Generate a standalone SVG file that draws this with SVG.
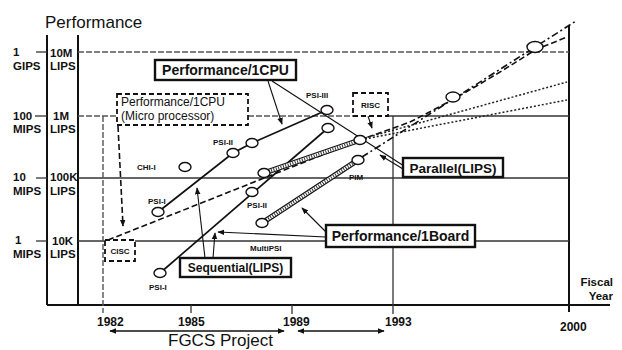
<svg xmlns="http://www.w3.org/2000/svg" width="622" height="350" viewBox="0 0 622 350">
<defs>
<marker id="arr" viewBox="0 0 10 10" refX="9" refY="5" markerWidth="7" markerHeight="7" orient="auto-start-reverse" markerUnits="userSpaceOnUse">
<path d="M0,1 L10,5 L0,9 z" fill="#111"/>
</marker>
<style>
text{font-family:"Liberation Sans",Arial,sans-serif;fill:#111}
.ax{font-size:11.5px;font-weight:bold}
.yr{font-size:12px;font-weight:bold}
.big{font-size:17px}
.lbl{font-weight:bold}
.sm{font-size:8px;font-weight:bold}
.axis{stroke:#111;stroke-width:2;fill:none}
.grid{stroke:#333;stroke-width:1.3;fill:none}
.gdash{stroke:#555;stroke-width:1.4;stroke-dasharray:6 2;fill:none}
.box{fill:#fff;stroke:#111;stroke-width:2.4}
.dbox{fill:#fff;stroke:#111;stroke-width:1.8;stroke-dasharray:5 3}
.pt{fill:#fff;stroke:#111;stroke-width:1.4}
.ln{stroke:#111;stroke-width:1.7;fill:none}
.lead{stroke:#111;stroke-width:1.1;fill:none}
.dash{stroke:#111;stroke-width:1.6;stroke-dasharray:6 3;fill:none}
.dashdot{stroke:#111;stroke-width:1.6;stroke-dasharray:7 3 2 3;fill:none}
.dot{stroke:#222;stroke-width:1.5;stroke-dasharray:2 2;fill:none}
.rail{stroke:#111;stroke-width:5.5;fill:none}
.rail-in{stroke:#fff;stroke-width:3;fill:none}
.rung{stroke:#333;stroke-width:3;stroke-dasharray:1 1.5;fill:none}
</style>
</defs>

<!-- axes and scale labels -->
<g id="axes">
<text class="big" x="45" y="28">Performance</text>
<line class="axis" x1="47" y1="35" x2="47" y2="305"/>
<line class="axis" x1="78" y1="35" x2="78" y2="305"/>
<line class="axis" x1="47" y1="305" x2="610" y2="305"/>
<line class="axis" x1="569" y1="25" x2="569" y2="312"/>
<!-- left scale ticks -->
<line class="grid" x1="36" y1="52" x2="47" y2="52"/>
<line class="grid" x1="35" y1="116" x2="47" y2="116"/>
<line class="grid" x1="36" y1="178" x2="47" y2="178"/>
<line class="grid" x1="36" y1="241" x2="47" y2="241"/>
<text class="ax" x="13" y="56">1</text>
<text class="ax" x="13" y="70">GIPS</text>
<text class="ax" x="50" y="57">10M</text>
<text class="ax" x="50" y="70">LIPS</text>
<text class="ax" x="13" y="120">100</text>
<text class="ax" x="13" y="133">MIPS</text>
<text class="ax" x="53" y="120">1M</text>
<text class="ax" x="50" y="133">LIPS</text>
<text class="ax" x="13" y="181">10</text>
<text class="ax" x="13" y="195">MIPS</text>
<text class="ax" x="50" y="181">100K</text>
<text class="ax" x="50" y="195">LIPS</text>
<text class="ax" x="15" y="244">1</text>
<text class="ax" x="13" y="258">MIPS</text>
<text class="ax" x="52" y="245">10K</text>
<text class="ax" x="50" y="258">LIPS</text>
<!-- horizontal grid -->
<line class="gdash" x1="78" y1="52" x2="569" y2="52"/>
<line class="gdash" x1="78" y1="116" x2="117" y2="116"/>
<line class="gdash" x1="248" y1="116" x2="353" y2="116"/>
<line class="grid" x1="388" y1="116" x2="569" y2="116"/>
<line class="grid" x1="78" y1="178" x2="569" y2="178"/>
<line class="grid" x1="78" y1="241" x2="569" y2="241"/>
<!-- year lines and ticks -->
<line class="gdash" x1="103" y1="116" x2="103" y2="313"/>
<line class="grid" x1="191" y1="305" x2="191" y2="313"/>
<line class="grid" x1="292" y1="305" x2="292" y2="314"/>
<line class="grid" x1="393" y1="116" x2="393" y2="314"/>
<text class="yr" x="97" y="326">1982</text>
<text class="yr" x="178" y="326">1985</text>
<text class="yr" x="283" y="326">1989</text>
<text class="yr" x="385" y="326">1993</text>
<text class="yr" x="560" y="331">2000</text>
<text class="ax" x="613" y="286" text-anchor="end">Fiscal</text>
<text class="ax" x="613" y="300" text-anchor="end">Year</text>
<!-- project span -->
<line class="ln" x1="110" y1="331" x2="284" y2="331" marker-start="url(#arr)" marker-end="url(#arr)"/>
<line class="ln" x1="298" y1="331" x2="384" y2="331" marker-start="url(#arr)" marker-end="url(#arr)"/>
<text class="big" x="168" y="346">FGCS Project</text>
</g>

<!-- trend lines and leaders -->
<g id="connectors">
<!-- CISC trend -->
<path class="dash" d="M108,240 L360,140 L410,122 Q470,92 535,50 L567,37"/>
<!-- parallel projections -->
<path class="dot" d="M365,138 L567,82"/>
<path class="dot" d="M365,139 L567,100"/>
<path class="dashdot" d="M362,157 L576,21"/>
<!-- per-CPU line -->
<polyline class="ln" points="158,212 233,153 252,143 327,110"/>
<!-- sequential line -->
<line class="ln" x1="160" y1="273" x2="328" y2="128"/>
<!-- Multi-PSI line -->
<line class="rail" x1="264" y1="173" x2="360" y2="140"/>
<line class="rail-in" x1="264" y1="173" x2="360" y2="140"/>
<line class="rung" x1="264" y1="173" x2="360" y2="140"/>
<!-- per-board line -->
<line class="rail" x1="262" y1="223" x2="358" y2="160"/>
<line class="rail-in" x1="262" y1="223" x2="358" y2="160"/>
<line class="rung" x1="262" y1="223" x2="358" y2="160"/>
<!-- box leaders -->
<line class="lead" x1="272" y1="81" x2="404" y2="166"/>
<line class="lead" x1="268" y1="81" x2="282" y2="124" marker-end="url(#arr)"/>
<line class="lead" x1="403" y1="169" x2="380" y2="155" marker-end="url(#arr)"/>
<line class="lead" x1="205" y1="258" x2="197" y2="188" marker-end="url(#arr)"/>
<line class="lead" x1="213" y1="258" x2="215" y2="233" marker-end="url(#arr)"/>
<line class="lead" x1="326" y1="232" x2="302" y2="208" marker-end="url(#arr)"/>
<line class="lead" x1="326" y1="237" x2="218" y2="232" marker-end="url(#arr)"/>
<line class="dash" x1="118" y1="126" x2="123" y2="226" marker-end="url(#arr)"/>
<line class="lead" x1="368" y1="116" x2="372" y2="128" marker-end="url(#arr)"/>
</g>

<!-- data points -->
<g id="points">
<ellipse class="pt" cx="185" cy="167" rx="6" ry="4.5"/>
<ellipse class="pt" cx="158" cy="212" rx="6" ry="4.5"/>
<ellipse class="pt" cx="160" cy="273" rx="6" ry="4.5"/>
<ellipse class="pt" cx="233" cy="153" rx="6" ry="4.5"/>
<ellipse class="pt" cx="252" cy="143" rx="6" ry="4.5"/>
<ellipse class="pt" cx="327" cy="110" rx="6" ry="4.5"/>
<ellipse class="pt" cx="328" cy="128" rx="6" ry="4.5"/>
<ellipse class="pt" cx="252" cy="192" rx="6" ry="4.5"/>
<ellipse class="pt" cx="264" cy="173" rx="6" ry="4.5"/>
<ellipse class="pt" cx="360" cy="140" rx="6" ry="4.5"/>
<ellipse class="pt" cx="358" cy="160" rx="6" ry="4.5"/>
<ellipse class="pt" cx="262" cy="223" rx="6" ry="4.5"/>
<ellipse class="pt" cx="453" cy="97" rx="7" ry="5" stroke-width="2"/>
<ellipse class="pt" cx="535" cy="47" rx="8" ry="5.5" stroke-width="2.4"/>
<text class="sm" x="137" y="170">CHI-I</text>
<text class="sm" x="148" y="204">PSI-I</text>
<text class="sm" x="149" y="290">PSI-I</text>
<text class="sm" x="213" y="145">PSI-II</text>
<text class="sm" x="247" y="208">PSI-II</text>
<text class="sm" x="306" y="98">PSI-III</text>
<text class="sm" x="349" y="180">PIM</text>
<text class="sm" x="250" y="251">MultiPSI</text>
</g>

<g id="box-cpu">
<rect class="box" x="155" y="60" width="141" height="20"/>
<text class="lbl" x="225.5" y="75" font-size="14" text-anchor="middle">Performance/1CPU</text>
</g>
<g id="box-micro">
<rect class="dbox" x="117" y="94" width="131" height="31"/>
<text x="121" y="106" font-size="12">Performance/1CPU</text>
<text x="121" y="120" font-size="12">(Micro processor)</text>
</g>
<g id="box-risc">
<rect class="dbox" x="353" y="93" width="35" height="23"/>
<text class="sm" x="370.5" y="108" text-anchor="middle">RISC</text>
</g>
<g id="box-cisc">
<rect class="dbox" x="105" y="240" width="30" height="21"/>
<text class="sm" x="120" y="254" text-anchor="middle">CISC</text>
</g>
<g id="box-parallel">
<rect class="box" x="403" y="158" width="100" height="19"/>
<text class="lbl" x="453" y="172.5" font-size="13.5" text-anchor="middle">Parallel(LIPS)</text>
</g>
<g id="box-board">
<rect class="box" x="326" y="225" width="149" height="22"/>
<text class="lbl" x="400.5" y="241" font-size="14" text-anchor="middle">Performance/1Board</text>
</g>
<g id="box-sequential">
<rect class="box" x="180" y="258" width="111" height="19"/>
<text class="lbl" x="235.5" y="272" font-size="12" text-anchor="middle">Sequential(LIPS)</text>
</g>
</svg>
